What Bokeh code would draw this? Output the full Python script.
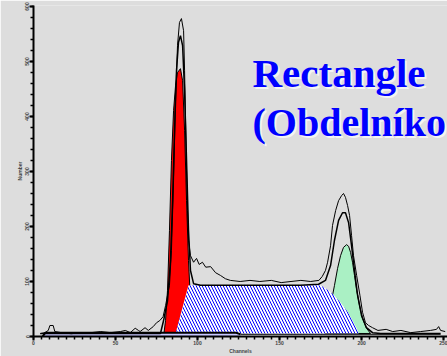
from bokeh.plotting import figure
from bokeh.models import Label, Range1d, SingleIntervalTicker
from bokeh.embed import file_html
from bokeh.resources import INLINE

# ---- data (channel, count) ----
data_ch = [4, 7, 9, 10, 12, 13, 17, 23, 29, 35, 41, 47, 53, 56, 59, 62, 64, 65, 68, 70,
           73, 75, 77, 79, 80.5, 81.7, 82.9, 84.1, 85.4, 86.6, 87.8, 89.0, 90.2, 91.5, 92.1,
           92.7, 93.3, 93.9, 94.5, 95.7, 97.6, 99.4, 101, 103, 105, 108, 111, 114, 117, 120,
           126, 132, 138, 145, 151, 157, 163, 169, 174, 176, 178, 179.3, 181.1, 182.3, 184.2,
           186, 187.8, 189, 190.2, 191.5, 192.7, 193.9, 195.1, 197, 199, 200.6, 202.4, 204.3,
           206.7, 210, 215, 219, 224, 230, 236, 242, 245.7, 247, 248.2, 251]
data_cnt = [5, 7, 11, 20, 20, 9, 7, 5, 7, 7, 9, 7, 9, 11, 7, 15, 11, 9, 16, 11,
            18, 25, 29, 36, 56, 75, 93, 156, 284, 429, 529, 571, 578, 556, 484,
            393, 302, 229, 175, 147, 135, 142, 131, 135, 126, 127, 116, 111, 105, 102,
            100, 102, 100, 102, 98, 100, 102, 100, 102, 109, 120, 135, 165, 202, 229,
            247, 256, 260, 253, 238, 220, 184, 147, 111, 75, 44, 25, 20, 16,
            11, 13, 9, 11, 7, 9, 11, 13, 18, 11, 9]

fit_ch = [4.3, 77.4, 79.3, 81.7, 83.5, 84.8, 86, 87.2, 88.4, 89.6, 90.9, 92.1, 93.3, 94.5,
          95.7, 97.6, 101.8, 162.8, 173.8, 178, 181.1, 183.5, 186, 188.4, 190.2, 192.1,
          193.9, 195.7, 197.6, 200, 203, 206.7, 211.6, 248.2]
fit_cnt = [5.5, 5.5, 29, 65, 138, 247, 375, 484, 535, 547, 529, 447, 320, 193,
           120, 96, 93, 93, 95, 102, 129, 175, 211, 225, 225, 207,
           165, 120, 75, 38, 16, 7, 5.5, 5.5]

g1_ch = [79.3, 80.5, 81.7, 82.9, 84.1, 85.4, 86.6, 87.8, 89.6, 90.9, 92.1, 93.3, 94.5, 95.7, 97, 98.8]
g1_cnt = [0, 29, 84, 193, 320, 411, 456, 480, 487, 465, 375, 247, 138, 65, 20, 0]

g2_ch = [178, 181.1, 183.5, 185.4, 187.2, 189, 190.9, 192.1, 193.3, 194.5, 195.7, 197, 198.8,
         200.6, 203, 205.5]
g2_cnt = [5.5, 56, 93, 124, 147, 162, 167, 164, 153, 135, 111, 84, 56, 33, 15, 5.5]

s_ch = [86.6, 94.5, 175, 179.3, 183, 187.2, 191.5, 194.5, 197, 198.2]
s_cnt = [5.5, 93, 93, 85, 76, 62, 45, 29, 15, 5.5]

deb_ch = [5.5, 7.3, 123.2, 126.2, 248.2]
deb_cnt = [0, 7, 7, 4, 4]

x_label = "Channels"
y_label = "Number"
title_lines = ["Rectangle", "(Obdelníko"]

BG = "#dddddd"

p = figure(width=447, height=356, output_backend="svg", toolbar_location=None,
           x_range=Range1d(0, 252.4), y_range=Range1d(0, 601.8),
           min_border_left=33, min_border_right=0, min_border_top=5, min_border_bottom=20,
           background_fill_color=BG, border_fill_color=BG, outline_line_color=None)
p.grid.visible = False

p.xaxis.ticker = SingleIntervalTicker(interval=50, num_minor_ticks=10)
p.yaxis.ticker = SingleIntervalTicker(interval=100, num_minor_ticks=5)
for ax in (p.xaxis[0], p.yaxis[0]):
    ax.axis_line_width = 2
    ax.major_tick_line_width = 2
    ax.minor_tick_line_width = 1.5
    ax.major_tick_out = 4
    ax.major_tick_in = 0
    ax.minor_tick_out = 3
    ax.minor_tick_in = 0
    ax.major_label_text_font = "Liberation Sans"
    ax.major_label_text_font_style = "bold"
    ax.major_label_text_font_size = "5px"
    ax.major_label_standoff = 0
    ax.axis_label_text_font = "Liberation Sans"
    ax.axis_label_text_font_style = "bold"
    ax.axis_label_text_font_size = "5px"
    ax.axis_label_standoff = 0
p.xaxis.axis_label = x_label
p.yaxis.axis_label = y_label
p.yaxis.major_label_orientation = "vertical"

# G1 and G2 peaks
p.patch(g1_ch, g1_cnt, fill_color="#ff0000", line_color="black", line_width=1)
p.patch(g2_ch, g2_cnt, fill_color="#aaf0c4", line_color="black", line_width=1)

# S-phase trapezoid
p.patch(s_ch, s_cnt, fill_color="white", hatch_pattern="\\", hatch_color="blue",
        hatch_scale=6, hatch_weight=1, line_color=None)

# debris band along the baseline
p.varea(x=deb_ch[:4], y1=0, y2=deb_cnt[:4], fill_color="#c8c8ff")
p.varea(x=deb_ch[3:], y1=0, y2=deb_cnt[3:], fill_color="white")
p.line(deb_ch[:4], deb_cnt[:4], line_color="black", line_width=2)
p.line(deb_ch[3:], deb_cnt[3:], line_color="black", line_width=1)

# fit and data
p.line(fit_ch, fit_cnt, line_color="black", line_width=1.5)
p.line(data_ch, data_cnt, line_color="black", line_width=1)

# title text (screen units are relative to the plot frame)
sizes = ["41px", "40px"]
for i, t in enumerate(title_lines):
    yb = 264 - 50 * i
    p.add_layout(Label(x=221, y=yb - 2, x_units="screen", y_units="screen", text=t,
                       text_font="Liberation Serif", text_font_style="bold",
                       text_baseline="alphabetic",
                       text_font_size=sizes[i], text_color="white", text_alpha=0.7))
    p.add_layout(Label(x=219, y=yb, x_units="screen", y_units="screen", text=t,
                       text_font="Liberation Serif", text_font_style="bold",
                       text_baseline="alphabetic",
                       text_font_size=sizes[i], text_color="#0000ff"))

open("out.html", "w").write(file_html(p, INLINE))
